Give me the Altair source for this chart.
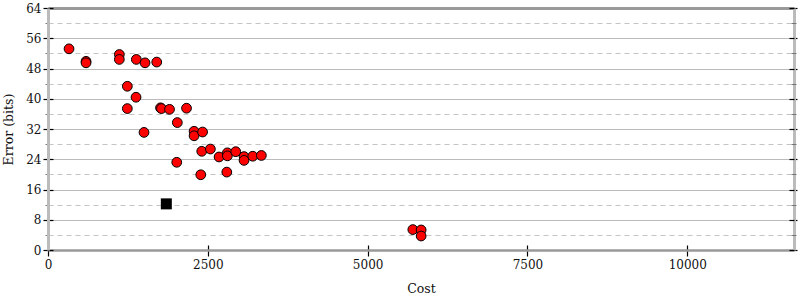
import altair as alt
import pandas as pd

cost = [329, 595, 595, 1116, 1116, 1382, 1518, 1701, 1241, 1377, 1241, 1760, 1775,
        1901, 2167, 2023, 1502, 2285, 2285, 2418, 2405, 2540, 2676, 2806, 2806, 2937,
        3067, 3067, 3203, 3338, 2014, 2390, 2797, 5707, 5837, 5837]
error = [53.2, 49.9, 49.5, 51.7, 50.4, 50.4, 49.5, 49.7, 43.3, 40.4, 37.4, 37.6, 37.4,
         37.2, 37.5, 33.7, 31.1, 31.4, 30.2, 31.2, 26.1, 26.7, 24.6, 25.7, 24.9, 26.0,
         24.7, 23.7, 24.8, 25.0, 23.2, 19.9, 20.6, 5.4, 5.3, 3.7]
best_cost = [1851]
best_error = [12.2]

x_ticks = [0, 2500, 5000, 7500, 10000]
y_major = [0, 8, 16, 24, 32, 40, 48, 56, 64]
y_minor = [4, 12, 20, 28, 36, 44, 52, 60]

df = pd.DataFrame({"cost": cost, "error": error})
best = pd.DataFrame({"cost": best_cost, "error": best_error})

FONT = "DejaVu Serif"
xs = alt.Scale(domain=[0, 11670], nice=False, zero=True)
ys = alt.Scale(domain=[0, 64], nice=False, zero=True)

def base(data):
    return alt.Chart(data)

# main layer: bottom x axis, left y axis with solid major grid
main = base(df).mark_circle(size=95, color="#ff0000", stroke="black",
                            strokeWidth=1, opacity=1).encode(
    x=alt.X("cost:Q", scale=xs, axis=alt.Axis(
        orient="bottom", values=x_ticks, title="Cost", grid=False, format="d",
        labelFlush=False,
        tickSize=6, tickColor="#000", tickWidth=1.2,
        domainColor="#999", domainWidth=2.5,
        labelFont=FONT, labelFontSize=12, labelColor="#111", labelPadding=3,
        titleFont=FONT, titleFontSize=12.5, titleFontWeight="normal",
        titleColor="#111", titlePadding=12)),
    y=alt.Y("error:Q", scale=ys, axis=alt.Axis(
        orient="left", values=y_major, title="Error (bits)", grid=True, format="d",
        labelFlush=False,
        gridColor="#bbbbbb", gridWidth=1,
        tickSize=5, tickColor="#000", tickWidth=1.2,
        domainColor="#bbbbbb", domainWidth=3,
        labelFont=FONT, labelFontSize=12, labelColor="#111", labelPadding=2,
        titleFont=FONT, titleFontSize=12.5, titleFontWeight="normal",
        titleColor="#111", titlePadding=10)),
)

# minor dashed grid + top border
minor = base(df).mark_point(opacity=0).encode(
    x=alt.X("cost:Q", scale=xs, axis=alt.Axis(
        orient="top", ticks=False, labels=False, title=None, grid=False,
        domainColor="#999", domainWidth=3)),
    y=alt.Y("error:Q", scale=ys, axis=alt.Axis(
        orient="left", values=y_minor, title=None, labels=False, domain=False,
        grid=True, gridColor="#c4c4c4", gridDash=[5, 4], gridWidth=1,
        tickSize=3, tickColor="#777", tickWidth=1)),
)

# inner halves of the ticks (bottom and left)
inner = base(df).mark_point(opacity=0).encode(
    x=alt.X("cost:Q", scale=xs, axis=alt.Axis(
        orient="bottom", values=x_ticks, offset=-5, tickSize=5, tickColor="#000",
        tickWidth=1.2, labels=False, domain=False, grid=False, title=None)),
    y=alt.Y("error:Q", scale=ys, axis=alt.Axis(
        orient="left", values=y_major, offset=-5, tickSize=5, tickColor="#000",
        tickWidth=1.2, labels=False, domain=False, grid=False, title=None)),
)

# right border with ticks
right = base(df).mark_point(opacity=0).encode(
    x=alt.X("cost:Q", scale=xs, axis=None),
    y=alt.Y("error:Q", scale=ys, axis=alt.Axis(
        orient="right", values=y_major, tickSize=3, tickColor="#000",
        tickWidth=1.2, labels=False, grid=False, title=None,
        domainColor="#bbbbbb", domainWidth=3)),
)
right_inner = base(df).mark_point(opacity=0).encode(
    x=alt.X("cost:Q", scale=xs, axis=None),
    y=alt.Y("error:Q", scale=ys, axis=alt.Axis(
        orient="right", values=y_major, offset=-5, tickSize=5, tickColor="#000",
        tickWidth=1.2, labels=False, domain=False, grid=False, title=None)),
)
right_minor = base(df).mark_point(opacity=0).encode(
    x=alt.X("cost:Q", scale=xs, axis=None),
    y=alt.Y("error:Q", scale=ys, axis=alt.Axis(
        orient="right", values=y_minor, offset=-3, tickSize=5, tickColor="#777",
        tickWidth=1, labels=False, domain=False, grid=False, title=None)),
)

square = base(best).mark_square(size=121, color="black", opacity=1).encode(
    x=alt.X("cost:Q", scale=xs, axis=None),
    y=alt.Y("error:Q", scale=ys, axis=None),
)

chart = alt.layer(minor, inner, right, right_inner, right_minor, main, square).resolve_axis(
    x="independent", y="independent"
).properties(
    width=746, height=242,
    padding={"left": 48, "top": 8, "right": 6, "bottom": 50},
    autosize=alt.AutoSizeParams(type="none"),
).configure_view(stroke=None).configure(background="white")

chart.save("out.html", embed_options={"renderer": "svg", "actions": False})
